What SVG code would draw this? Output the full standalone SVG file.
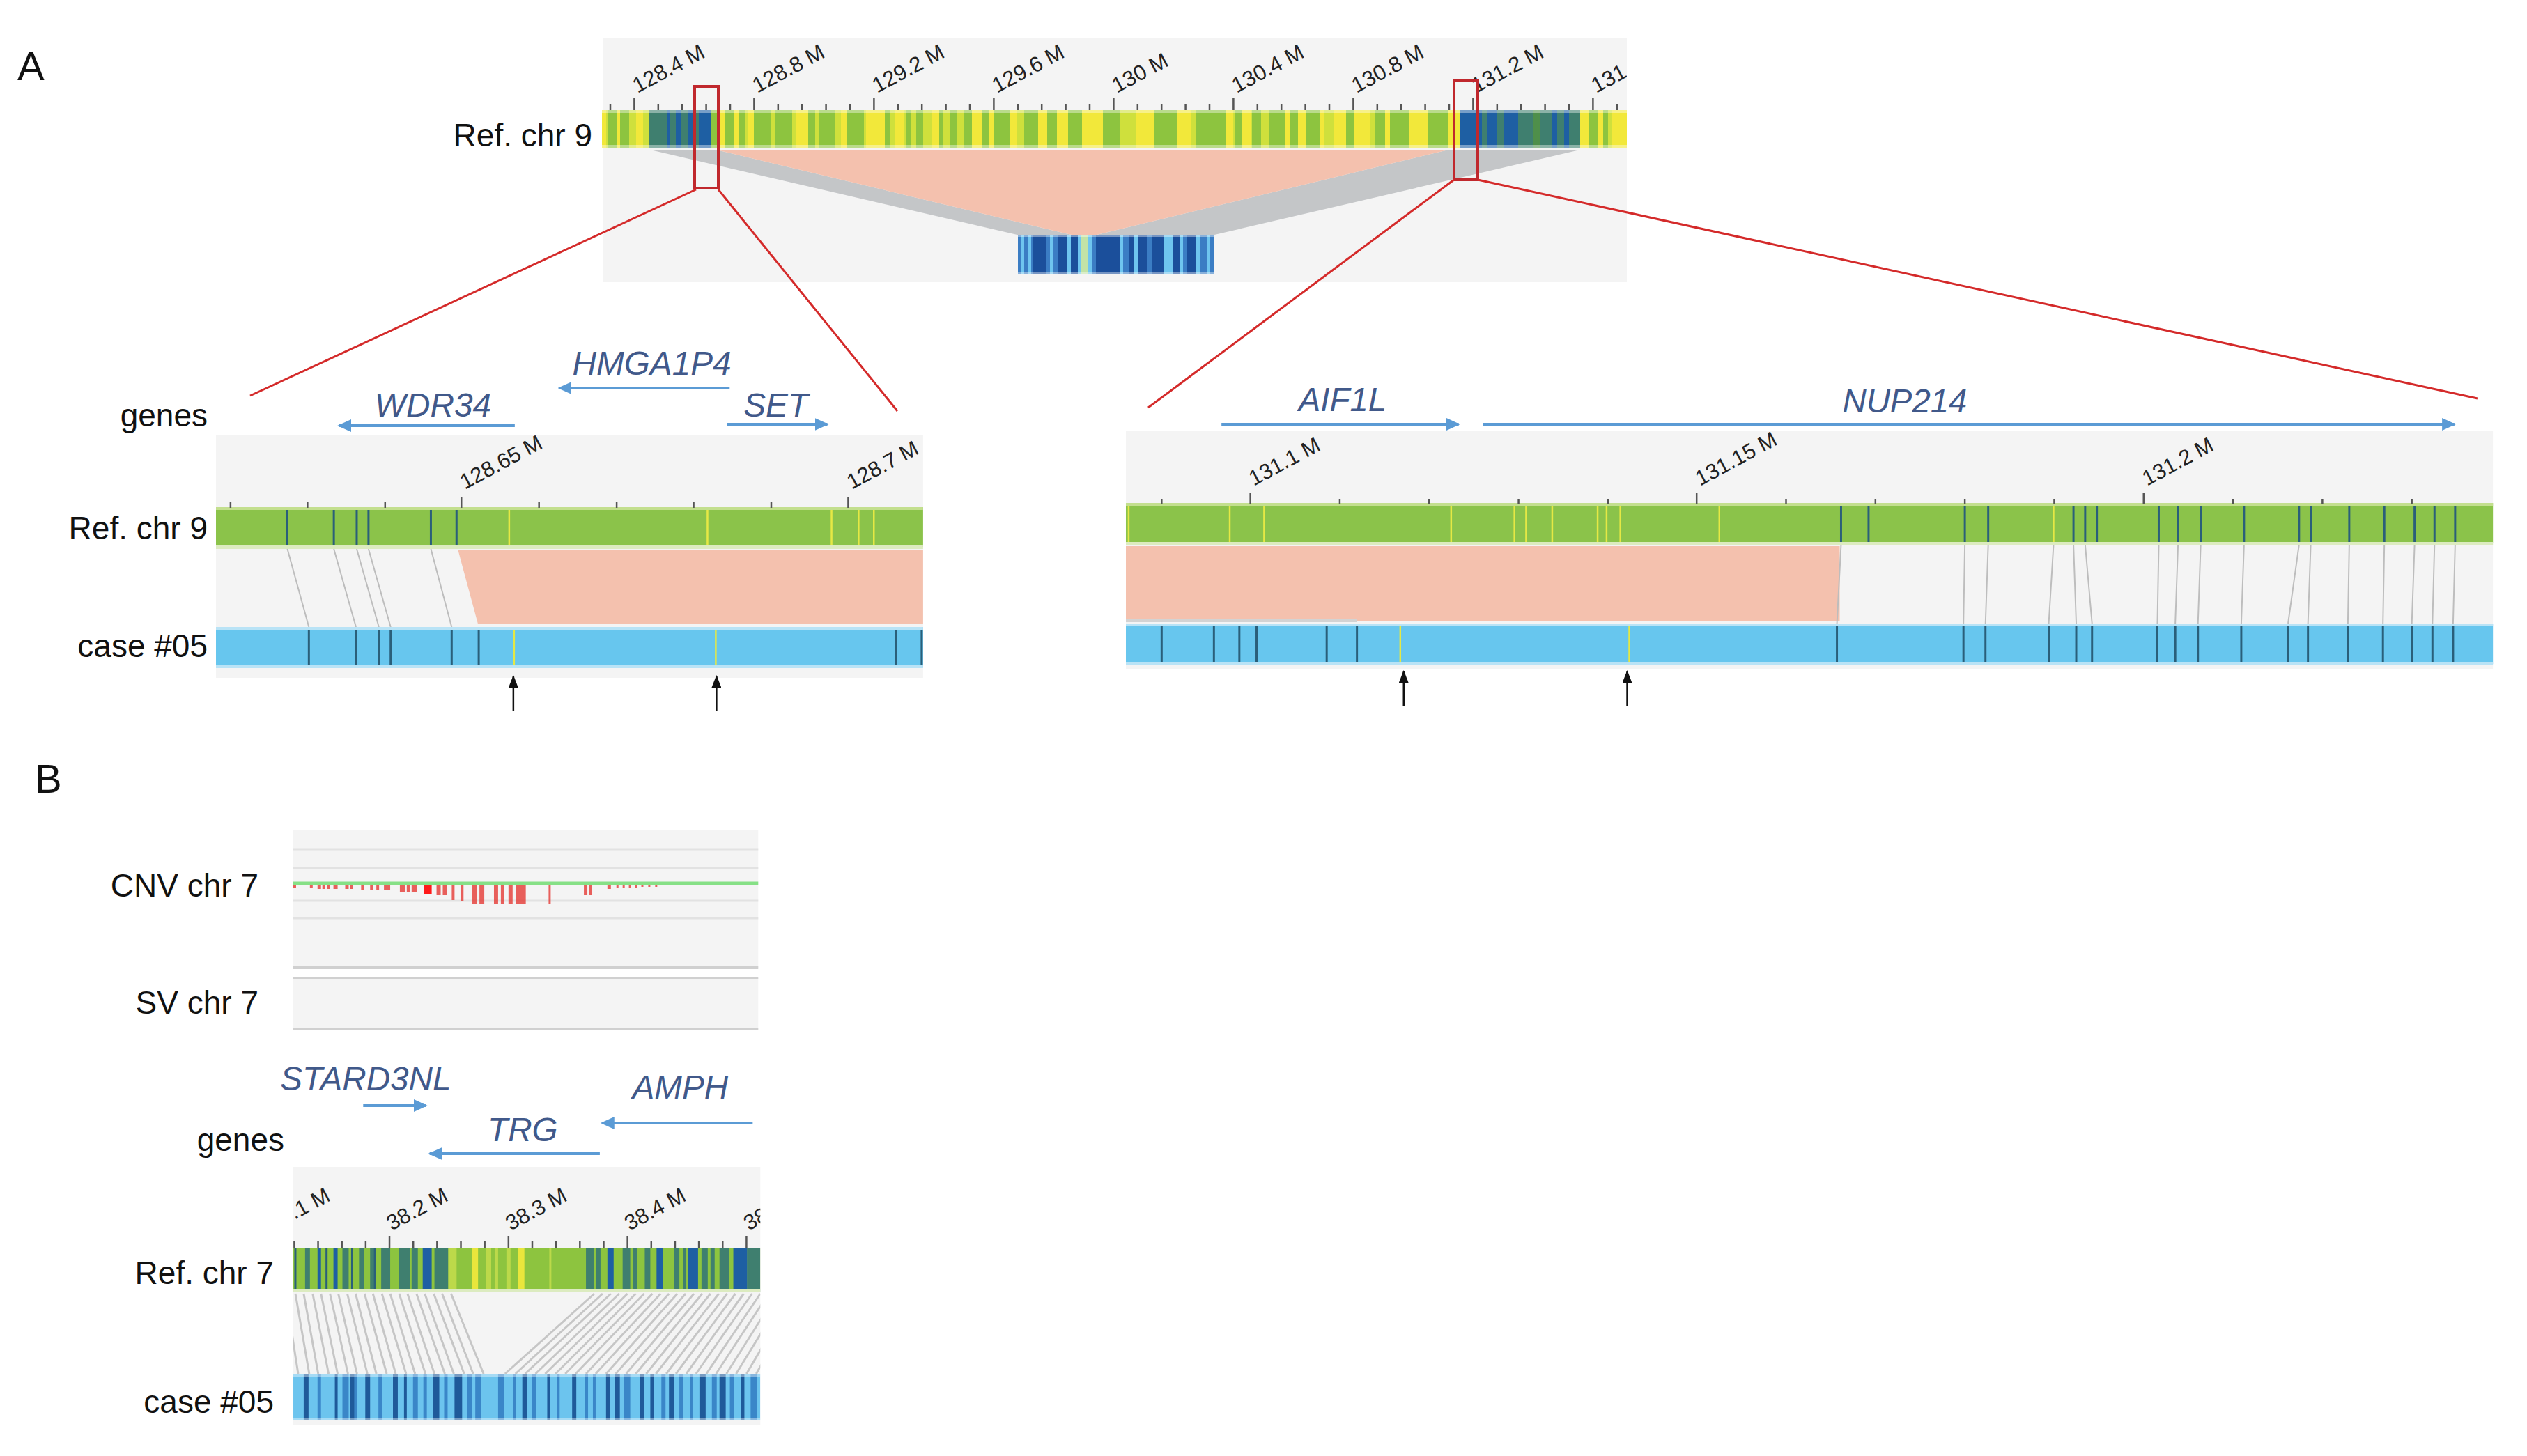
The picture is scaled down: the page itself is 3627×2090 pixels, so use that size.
<svg xmlns="http://www.w3.org/2000/svg" width="3627" height="2090" viewBox="0 0 3627 2090">
<defs>
<style>
.lbl{font-family:"Liberation Sans",Arial,sans-serif;font-size:46px;fill:#111}
.pl{font-family:"Liberation Sans",Arial,sans-serif;font-size:58px;fill:#111}
.gene{font-family:"Liberation Sans",Arial,sans-serif;font-size:48px;font-style:italic;fill:#41598a}
.tk{font-family:"Liberation Sans",Arial,sans-serif;font-size:31px;fill:#222}
.bg{fill:#f4f4f4}
.garrow{stroke:#5b9bd5;stroke-width:4;fill:none;marker-end:url(#ah)}
.barrow{stroke:#111;stroke-width:2.5;fill:none;marker-end:url(#bh)}
.tick{stroke:#555;stroke-width:2.5;fill:none}
.zoom{stroke:#d42a2a;stroke-width:3;fill:none}
.box{stroke:#c0282d;stroke-width:4;fill:none}
.g{fill:#8dc43f}.y{fill:#f2e83a}.yg{fill:#cfe03c}.t{fill:#3f7f6f}.b{fill:#1e5fa3}
.dk{stroke:#2a5f7a;stroke-width:3;fill:none}
.yl{stroke:#e5e845;stroke-width:2.5;fill:none}
.con{stroke:#bdbdbd;stroke-width:2;fill:none}
.gl{fill:#8bc34a}.cb{fill:#67c6ee}
.hi{fill:#ffffff;opacity:0.4}
.hl{stroke:#e2e2e2;stroke-width:3}
.hd{stroke:#d0d0d0;stroke-width:4}
</style>
<marker id="ah" markerUnits="userSpaceOnUse" markerWidth="20" markerHeight="18" refX="18" refY="9" orient="auto"><path d="M0,0L20,9L0,18z" fill="#5b9bd5"/></marker>
<marker id="bh" markerUnits="userSpaceOnUse" markerWidth="18" markerHeight="14" refX="17" refY="7" orient="auto"><path d="M0,0L18,7L0,14z" fill="#111"/></marker>
<clipPath id="clipTop"><rect x="865" y="54" width="1470" height="351"/></clipPath>
<clipPath id="clipB"><rect x="427" y="1675" width="675" height="370"/></clipPath>
</defs>
<rect width="3627" height="2090" fill="#ffffff"/>

<g id="panel-labels">
<text class="pl" x="25" y="115">A</text>
<text class="pl" x="50" y="1138">B</text>
</g>

<g id="overview-chr9">
<rect class="bg" x="865" y="54" width="1470" height="351"/>
<rect class="yg" x="864" y="158" width="1471" height="55"/>
<path class="g" d="M873 158h12v55h-12zM890 158h13v55h-13zM1020 158h10v55h-10zM1040 158h13v55h-13zM1060 158h10v55h-10zM1082 158h25v55h-25zM1113 158h24v55h-24zM1160 158h10v55h-10zM1175 158h23v55h-23zM1215 158h25v55h-25zM1270 158h7v55h-7zM1300 158h8v55h-8zM1315 158h10v55h-10zM1348 158h5v55h-5zM1363 158h10v55h-10zM1383 158h12v55h-12zM1410 158h10v55h-10zM1427 158h23v55h-23zM1470 158h20v55h-20zM1503 158h14v55h-14zM1533 158h20v55h-20zM1583 158h24v55h-24zM1657 158h33v55h-33zM1717 158h43v55h-43zM1773 158h10v55h-10zM1797 158h13v55h-13zM1821 158h24v55h-24zM1852 158h11v55h-11zM1875 158h19v55h-19zM1932 158h11v55h-11zM1974 158h14v55h-14zM1995 158h27v55h-27zM2050 158h28v55h-28zM2280 158h14v55h-14zM2301 158h7v55h-7z"/>
<path class="y" d="M864 158h6v55h-6zM885 158h5v55h-5zM913 158h10v55h-10zM1030 158h10v55h-10zM1053 158h7v55h-7zM1073 158h9v55h-9zM1143 158h17v55h-17zM1207 158h8v55h-8zM1243 158h20v55h-20zM1263 158h7v55h-7zM1285 158h12v55h-12zM1337 158h11v55h-11zM1395 158h15v55h-15zM1420 158h7v55h-7zM1450 158h10v55h-10zM1490 158h13v55h-13zM1517 158h16v55h-16zM1553 158h30v55h-30zM1630 158h27v55h-27zM1690 158h20v55h-20zM1760 158h10v55h-10zM1783 158h12v55h-12zM1845 158h7v55h-7zM1863 158h12v55h-12zM1894 158h7v55h-7zM1915 158h17v55h-17zM1943 158h24v55h-24zM1988 158h7v55h-7zM2022 158h28v55h-28zM2078 158h17v55h-17zM2268 158h12v55h-12zM2294 158h7v55h-7zM2314 158h21v55h-21z"/>
<path class="t" d="M932 158h25v55h-25zM962 158h8v55h-8zM977 158h10v55h-10zM995 158h8v55h-8zM2127 158h7v55h-7zM2148 158h10v55h-10zM2179 158h21v55h-21zM2210 158h18v55h-18zM2235 158h10v55h-10zM2252 158h16v55h-16z"/>
<path class="b" d="M957 158h5v55h-5zM970 158h7v55h-7zM987 158h8v55h-8zM1003 158h17v55h-17zM2095 158h32v55h-32zM2134 158h14v55h-14zM2158 158h21v55h-21zM2228 158h7v55h-7zM2245 158h7v55h-7z"/>
<rect x="2200" y="158" width="10" height="55" fill="#4f8f4a"/>
<rect class="hi" x="864" y="158" width="1471" height="4"/>
<rect class="hi" x="864" y="208" width="1471" height="5"/>
<path class="tick" d="M910.4 140V158M1082.4 140V158M1254.4 140V158M1426.4 140V158M1598.4 140V158M1770.4 140V158M1942.4 140V158M2114.4 140V158M2286.4 140V158M876 150V158M944.8 150V158M979.2 150V158M1013.6 150V158M1048 150V158M1116.8 150V158M1151.2 150V158M1185.6 150V158M1220 150V158M1288.8 150V158M1323.2 150V158M1357.6 150V158M1392 150V158M1460.8 150V158M1495.2 150V158M1529.6 150V158M1564 150V158M1632.8 150V158M1667.2 150V158M1701.6 150V158M1736 150V158M1804.8 150V158M1839.2 150V158M1873.6 150V158M1908 150V158M1976.8 150V158M2011.2 150V158M2045.6 150V158M2080 150V158M2148.8 150V158M2183.2 150V158M2217.6 150V158M2252 150V158M2320.8 150V158"/>
<g clip-path="url(#clipTop)">
<text class="tk" transform="translate(915,134) rotate(-28)">128.4 M</text>
<text class="tk" transform="translate(1087,134) rotate(-28)">128.8 M</text>
<text class="tk" transform="translate(1259,134) rotate(-28)">129.2 M</text>
<text class="tk" transform="translate(1431,134) rotate(-28)">129.6 M</text>
<text class="tk" transform="translate(1603,134) rotate(-28)">130 M</text>
<text class="tk" transform="translate(1775,134) rotate(-28)">130.4 M</text>
<text class="tk" transform="translate(1947,134) rotate(-28)">130.8 M</text>
<text class="tk" transform="translate(2119,134) rotate(-28)">131.2 M</text>
<text class="tk" transform="translate(2291,134) rotate(-28)">131</text>
</g>
<polygon points="933,215 1028,215 1538,337 1460,337" fill="#c4c6c8"/>
<polygon points="2079,215 2268,215 1743,337 1574,337" fill="#c4c6c8"/>
<polygon points="1028,215 2079,215 1574,337 1538,337" fill="#f4c1ae"/>
<rect x="1461" y="337" width="282" height="56" fill="#3b7dc4"/>
<path fill="#1b4f9b" d="M1483 337h19v56h-19zM1518 337h14v56h-14zM1537 337h10v56h-10zM1573 337h34v56h-34zM1620 337h8v56h-8zM1633 337h14v56h-14zM1653 337h17v56h-17zM1683 337h10v56h-10zM1703 337h14v56h-14z"/>
<path fill="#6fc5ef" d="M1465 337h5v56h-5zM1475 337h5v56h-5zM1507 337h5v56h-5zM1532 337h5v56h-5zM1547 337h5v56h-5zM1562 337h5v56h-5zM1607 337h5v56h-5zM1628 337h5v56h-5zM1670 337h13v56h-13zM1693 337h5v56h-5zM1717 337h6v56h-6zM1732 337h4v56h-4z"/>
<rect x="1552" y="337" width="10" height="56" fill="#c2e3a6"/>
<rect class="hi" x="1461" y="337" width="282" height="3"/>
<rect class="hi" x="1461" y="390" width="282" height="3"/>
<text class="lbl" x="850" y="210" text-anchor="end">Ref. chr 9</text>
<rect class="box" x="997" y="124" width="34" height="146"/>
<rect class="box" x="2087" y="116" width="34" height="142"/>
</g>

<g id="zoom-left">
<text class="lbl" x="298" y="612" text-anchor="end">genes</text>
<text class="lbl" x="298" y="774" text-anchor="end">Ref. chr 9</text>
<text class="lbl" x="298" y="943" text-anchor="end">case #05</text>
<g transform="matrix(0.995 0 0 1 1.55 0)">
<text class="gene" x="824" y="538">HMGA1P4</text>
<line class="garrow" x1="1051" y1="557" x2="805" y2="557"/>
<text class="gene" x="539" y="598">WDR34</text>
<line class="garrow" x1="741" y1="611" x2="487" y2="611"/>
<text class="gene" x="1071" y="598">SET</text>
<line class="garrow" x1="1047" y1="609" x2="1192" y2="609"/>
<rect class="bg" x="310" y="625" width="1020" height="348"/>
<rect class="gl" x="310" y="728" width="1020" height="57"/>
<rect x="310" y="728" width="1020" height="4" fill="#c3df8e"/>
<rect x="310" y="783" width="1020" height="5" fill="#dcebc0"/>
<path class="dk" d="M413 732V783M480 732V783M513 732V783M530 732V783M620 732V783M657 732V783"/>
<path class="yl" d="M733 732V783M1019 732V783M1198 732V783M1237 732V783M1259 732V783"/>
<path class="tick" d="M664 713V729M1222 713V729M331 720V729M442 720V729M554 720V729M776 720V729M888 720V729M999 720V729M1111 720V729"/>
<text class="tk" transform="translate(669,703) rotate(-28)">128.65 M</text>
<text class="tk" transform="translate(1227,703) rotate(-28)">128.7 M</text>
<polygon points="659,789 1330,789 1330,896 688,896" fill="#f4c1ae"/>
<path class="con" d="M413 788L444 900M480 788L512 900M513 788L545 900M530 788L562 900M620 788L650 900"/>
<rect class="cb" x="310" y="900" width="1020" height="58"/>
<rect x="310" y="900" width="1020" height="4" fill="#b9e3f6"/>
<rect x="310" y="955" width="1020" height="4" fill="#b9e3f6"/>
<path class="dk" d="M444 904V955M512 904V955M545 904V955M562 904V955M650 904V955M689 904V955M1291 904V955M1328 904V955"/>
<path class="yl" d="M740 904V955M1031 904V955"/>
<line class="barrow" x1="739" y1="1020" x2="739" y2="970"/>
<line class="barrow" x1="1032" y1="1020" x2="1032" y2="970"/>
</g>
</g>

<g id="zoom-right" transform="matrix(0.987 0 0 1 21 0)">
<text class="gene" x="1867" y="590">AIF1L</text>
<line class="garrow" x1="1755" y1="609" x2="2100" y2="609"/>
<text class="gene" x="2658" y="592">NUP214</text>
<line class="garrow" x1="2135" y1="609" x2="3548" y2="609"/>
<rect class="bg" x="1616" y="619" width="1988" height="342"/>
<rect class="gl" x="1616" y="722" width="1988" height="58"/>
<rect x="1616" y="722" width="1988" height="4" fill="#c3df8e"/>
<rect x="1616" y="778" width="1988" height="5" fill="#dcebc0"/>
<path class="yl" d="M1620 726V778M1767 726V778M1817 726V778M2089 726V778M2181 726V778M2198 726V778M2236 726V778M2302 726V778M2315 726V778M2335 726V778M2479 726V778M2965 726V778"/>
<path class="dk" d="M2656 726V778M2696 726V778M2836 726V778M2870 726V778M2994 726V778M3011 726V778M3028 726V778M3118 726V778M3146 726V778M3179 726V778M3242 726V778M3322 726V778M3339 726V778M3395 726V778M3446 726V778M3490 726V778M3519 726V778M3549 726V778"/>
<path class="tick" d="M1797 708V724M2446 708V724M3096 708V724M1668 717V724M1927 717V724M2057 717V724M2187 717V724M2317 717V724M2576 717V724M2706 717V724M2836 717V724M2966 717V724M3226 717V724M3356 717V724M3486 717V724"/>
<text class="tk" transform="translate(1802,698) rotate(-28)">131.1 M</text>
<text class="tk" transform="translate(2451,698) rotate(-28)">131.15 M</text>
<text class="tk" transform="translate(3101,698) rotate(-28)">131.2 M</text>
<rect x="1616" y="784" width="1038" height="108" fill="#f4c1ae"/>
<rect x="1616" y="888" width="336" height="5" fill="#d3d3d3"/>
<path class="con" d="M2656 782L2650 895M2836 782L2834 895M2870 782L2866 895M2965 782L2958 895M2994 782L2998 895M3011 782L3021 895M3118 782L3116 895M3146 782L3142 895M3179 782L3175 895M3242 782L3238 895M3322 782L3306 895M3339 782L3335 895M3395 782L3393 895M3446 782L3444 895M3490 782L3486 895M3519 782L3516 895M3549 782L3546 895"/>
<rect class="cb" x="1616" y="895" width="1988" height="58"/>
<rect x="1616" y="895" width="1988" height="4" fill="#b9e3f6"/>
<rect x="1616" y="950" width="1988" height="4" fill="#b9e3f6"/>
<path class="dk" d="M1668 899V950M1744 899V950M1781 899V950M1806 899V950M1908 899V950M1952 899V950M2650 899V950M2834 899V950M2866 899V950M2958 899V950M2998 899V950M3021 899V950M3116 899V950M3142 899V950M3175 899V950M3238 899V950M3306 899V950M3335 899V950M3393 899V950M3444 899V950M3486 899V950M3516 899V950M3546 899V950"/>
<path class="yl" d="M2015 899V950M2348 899V950"/>
<line class="barrow" x1="2020" y1="1013" x2="2020" y2="963"/>
<line class="barrow" x1="2345" y1="1013" x2="2345" y2="963"/>
</g>

<g id="cnv-sv-chr7">
<text class="lbl" x="371" y="1287" text-anchor="end">CNV chr 7</text>
<text class="lbl" x="371" y="1455" text-anchor="end">SV chr 7</text>
<g transform="matrix(0.993 0 0 1 -3 0)">
<rect class="bg" x="427" y="1192" width="672" height="197"/>
<rect class="bg" x="427" y="1404" width="672" height="74"/>
<path class="hl" d="M427 1219H1099M427 1246H1099M427 1293H1099M427 1318H1099"/>
<path class="hd" d="M427 1389H1099M427 1404H1099M427 1477H1099"/>
<line x1="427" y1="1268" x2="1099" y2="1268" stroke="#86e086" stroke-width="5"/>
<path fill="#e53935" opacity="0.8" d="M427 1270h4v5h-4zM451 1270h4v5h-4zM462 1270h5v6h-5zM469 1270h4v6h-4zM476 1270h4v6h-4zM485 1270h6v6h-6zM502 1270h5v6h-5zM509 1270h4v6h-4zM525 1270h4v7h-4zM538 1270h4v7h-4zM547 1270h4v7h-4zM558 1270h9v7h-9zM581 1270h8v10h-8zM591 1270h5v10h-5zM598 1270h8v10h-8zM634 1270h6v15h-6zM643 1270h6v15h-6zM656 1270h4v22h-4zM669 1270h4v24h-4zM685 1270h7v27h-7zM696 1270h7v27h-7zM717 1270h6v27h-6zM727 1270h5v27h-5zM738 1270h6v27h-6zM749 1270h14v28h-14zM796 1270h3v27h-3zM847 1270h5v15h-5zM854 1270h4v15h-4zM881 1270h5v6h-5zM894 1270h3v4h-3zM903 1270h3v4h-3zM912 1270h3v4h-3zM921 1270h3v4h-3zM930 1270h3v3h-3zM940 1270h3v3h-3zM950 1270h3v3h-3z"/>
<rect x="616" y="1270" width="11" height="14" fill="#ff1a1a"/>
</g>
</g>

<g id="genes-chr7">
<text class="lbl" x="408" y="1652" text-anchor="end">genes</text>
<g transform="matrix(0.993 0 0 1 -5 0)">
<text class="gene" x="410" y="1565" font-size="45">STARD3NL</text>
<line class="garrow" x1="530" y1="1587" x2="621" y2="1587"/>
<text class="gene" x="919" y="1577">AMPH</text>
<line class="garrow" x1="1093" y1="1612" x2="875" y2="1612"/>
<text class="gene" x="710" y="1638">TRG</text>
<line class="garrow" x1="872" y1="1656" x2="626" y2="1656"/>
</g>
</g>

<g id="align-chr7">
<text class="lbl" x="393" y="1843" text-anchor="end">Ref. chr 7</text>
<text class="lbl" x="393" y="2028" text-anchor="end">case #05</text>
<g transform="matrix(0.993 0 0 1 -3 0)">
<rect class="bg" x="427" y="1675" width="675" height="370"/>
<g clip-path="url(#clipB)">
<rect class="g" x="427" y="1792" width="675" height="63"/>
<path class="t" d="M444 1792h7v63h-7zM498 1792h9v63h-9zM522 1792h7v63h-7zM538 1792h7v63h-7zM554 1792h13v63h-13zM580 1792h16v63h-16zM598 1792h9v63h-9zM631 1792h20v63h-20zM850 1792h11v63h-11zM865 1792h6v63h-6zM903 1792h11v63h-11zM918 1792h6v63h-6zM935 1792h8v63h-8zM977 1792h8v63h-8zM990 1792h5v63h-5zM1017 1792h9v63h-9zM1030 1792h6v63h-6zM1043 1792h14v63h-14zM1083 1792h19v63h-19z"/>
<path class="b" d="M462 1792h5v63h-5zM485 1792h6v63h-6zM614 1792h13v63h-13zM881 1792h9v63h-9zM952 1792h9v63h-9zM997 1792h15v63h-15zM1063 1792h20v63h-20z"/>
<path fill="#bcd94a" d="M651 1792h12v63h-12zM705 1792h8v63h-8zM718 1792h5v63h-5zM735 1792h6v63h-6zM797 1792h3v63h-3z"/>
<path fill="#e9e63c" d="M685 1792h9v63h-9zM752 1792h9v63h-9z"/>
<path class="dk" d="M430 1792V1855M475 1792V1855M512 1792V1855M545 1792V1855"/>
<rect x="427" y="1850" width="675" height="5" fill="#dcebc0"/>
<path class="tick" d="M566 1774V1792M738 1774V1792M910 1774V1792M1082 1774V1792M428.4 1782V1792M462.8 1782V1792M497.2 1782V1792M531.6 1782V1792M600.4 1782V1792M634.8 1782V1792M669.2 1782V1792M703.6 1782V1792M772.4 1782V1792M806.8 1782V1792M841.2 1782V1792M875.6 1782V1792M944.4 1782V1792M978.8 1782V1792M1013.2 1782V1792M1047.6 1782V1792"/>
<text class="tk" transform="translate(429,1751) rotate(-28)">.1 M</text>
<text class="tk" transform="translate(569,1767) rotate(-28)">38.2 M</text>
<text class="tk" transform="translate(741,1767) rotate(-28)">38.3 M</text>
<text class="tk" transform="translate(913,1767) rotate(-28)">38.4 M</text>
<text class="tk" transform="translate(1085,1767) rotate(-28)">38</text>
<path stroke="#c6c6c6" stroke-width="3" fill="none" d="M430 1857L450 1972M442 1857L463 1972M455 1857L478 1972M467 1857L491 1972M480 1857L506 1972M492 1857L519 1972M505 1857L534 1972M517 1857L547 1972M530 1857L562 1972M542 1857L575 1972M555 1857L590 1972M567 1857L603 1972M580 1857L618 1972M592 1857L631 1972M605 1857L646 1972M617 1857L659 1972M630 1857L674 1972M642 1857L687 1972M655 1857L702 1972M416 1857L434 1972"/>
<path stroke="#c6c6c6" stroke-width="3" fill="none" d="M862 1857L733 1972M874 1857L748 1972M886 1857L762 1972M898 1857L777 1972M910 1857L791 1972M922 1857L806 1972M934 1857L820 1972M946 1857L835 1972M958 1857L850 1972M970 1857L864 1972M982 1857L879 1972M994 1857L893 1972M1006 1857L908 1972M1018 1857L922 1972M1030 1857L937 1972M1042 1857L951 1972M1054 1857L966 1972M1066 1857L980 1972M1078 1857L995 1972M1090 1857L1009 1972M1102 1857L1024 1972M1114 1857L1038 1972M1126 1857L1053 1972M1138 1857L1067 1972M1150 1857L1082 1972M1162 1857L1096 1972"/>
<rect x="427" y="1973" width="675" height="65" fill="#6cc4ee"/>
<path fill="#1f5a9a" d="M442 1973h7v65h-7zM487 1973h4v65h-4zM509 1973h7v65h-7zM531 1973h7v65h-7zM571 1973h7v65h-7zM587 1973h4v65h-4zM629 1973h9v65h-9zM660 1973h11v65h-11zM758 1973h7v65h-7zM794 1973h4v65h-4zM830 1973h6v65h-6zM879 1973h6v65h-6zM892 1973h7v65h-7zM928 1973h6v65h-6zM943 1973h5v65h-5zM970 1973h7v65h-7zM1014 1973h9v65h-9zM1043 1973h9v65h-9zM1074 1973h5v65h-5z"/>
<path fill="#3a86c8" d="M462 1973h5v65h-5zM498 1973h9v65h-9zM515 1973h4v65h-4zM550 1973h5v65h-5zM600 1973h7v65h-7zM615 1973h5v65h-5zM645 1973h5v65h-5zM678 1973h7v65h-7zM690 1973h8v65h-8zM723 1973h9v65h-9zM745 1973h4v65h-4zM772 1973h6v65h-6zM808 1973h4v65h-4zM848 1973h5v65h-5zM860 1973h4v65h-4zM905 1973h9v65h-9zM959 1973h6v65h-6zM985 1973h5v65h-5zM1000 1973h4v65h-4zM1032 1973h7v65h-7zM1058 1973h6v65h-6zM1088 1973h9v65h-9z"/>
<rect class="hi" x="427" y="1973" width="675" height="3"/>
<rect class="hi" x="427" y="2035" width="675" height="3"/>
</g>
</g>
</g>

<g id="connectors">
<line class="zoom" x1="999" y1="272" x2="359" y2="568"/>
<line class="zoom" x1="1031" y1="272" x2="1288" y2="590"/>
<line class="zoom" x1="2087" y1="258" x2="1648" y2="585"/>
<line class="zoom" x1="2121" y1="258" x2="3556" y2="572"/>
</g>
</svg>
